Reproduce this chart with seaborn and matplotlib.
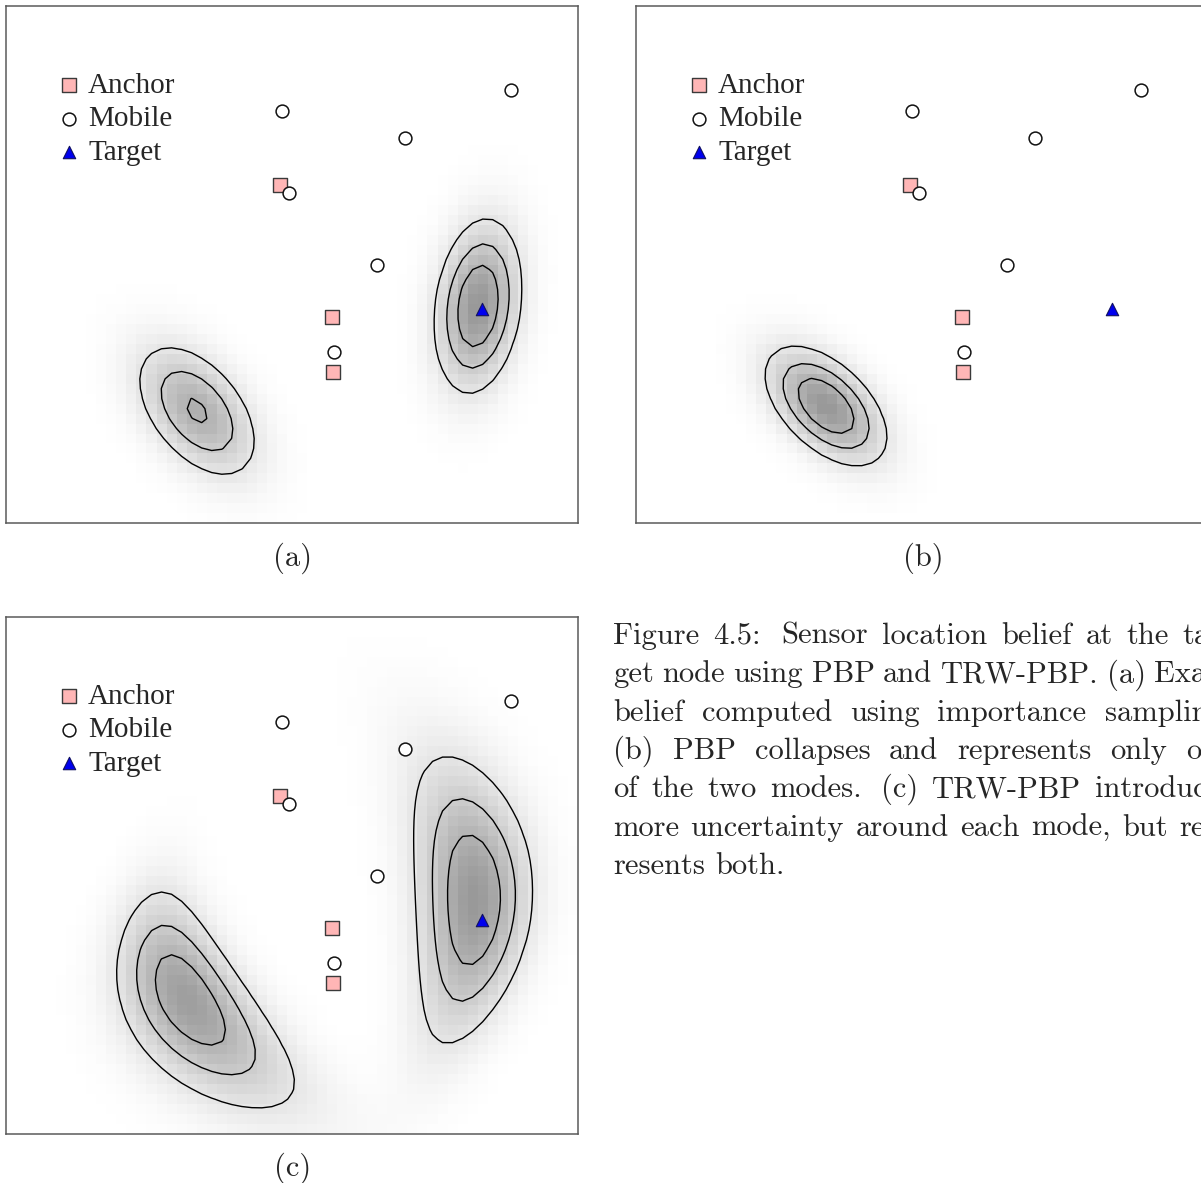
import numpy as np
import matplotlib
matplotlib.use("Agg")
import matplotlib.pyplot as plt
from matplotlib.colors import LinearSegmentedColormap
import seaborn as sns

# ---------------------------------------------------------------------------
# Sensor layout (metres)
anchor_x = [2.74, 3.26, 3.27]
anchor_y = [3.38, 2.06, 1.51]
mobile_x = [2.76, 2.83, 3.99, 5.05, 3.71, 3.28]
mobile_y = [4.12, 3.30, 3.85, 4.33, 2.58, 1.71]
target_x = [4.76]
target_y = [2.14]

# Belief modes at the target node.
# Each mode: weight, x0, y0, sx, sy, rho, shear, curvature, taper
modes_exact = [
    [1.00, 4.72, 2.17, 0.26, 0.52, 0.20, 0.0, 0.0, 0.0],
    [0.77, 1.91, 1.12, 0.377, 0.417, -0.48, 0.0, 0.0, 0.0],
]
modes_pbp = [
    [1.00, 1.90, 1.17, 0.363, 0.357, -0.52, 0.0, 0.0, 0.0],
]
modes_trw = [
    [1.00, 4.68, 2.34, 0.35, 0.86, 0.0, 0.0, -0.13, -0.08],
    [0.95, 1.81, 1.34, 0.41, 0.66, 0.0, -0.45, 0.20, 0.33],
]
contour_fracs = [0.25, 0.5, 0.75]
legend_labels = ["Anchor", "Mobile", "Target"]
panel_labels = ["(a)", "(b)", "(c)"]

caption_lines = [
    ["Figure", "4.5:", "Sensor", "location", "belief", "at", "the", "tar-"],
    ["get", "node", "using", "PBP", "and", "TRW-PBP.", "(a)", "Exact"],
    ["belief", "computed", "using", "importance", "sampling."],
    ["(b)", "PBP", "collapses", "and", "represents", "only", "one"],
    ["of", "the", "two", "modes.", "(c)", "TRW-PBP", "introduces"],
    ["more", "uncertainty", "around", "each", "mode,", "but", "rep-"],
    ["resents", "both."],
]
sentence_ends = {"4.5:", "modes."}

# ---------------------------------------------------------------------------
# Layout (pixels)
W, H = 1201, 1183
XMAX, YMAX = 5.72, 5.17
NX, NY = 57, 52
CAP_LEFT, CAP_RIGHT = 613, 1232
CAP_SIZE = 22
caption_base_y = [644 + 38.3 * i for i in range(len(caption_lines))]

sns.set_style("white")
plt.rcParams["font.family"] = ["Liberation Serif", "DejaVu Serif"]

fig = plt.figure(figsize=(W / 100, H / 100), dpi=100)


def add_panel(left, top, width=572, height=517):
    return fig.add_axes([left / W, 1 - (top + height) / H, width / W, height / H])


xe = np.linspace(0, XMAX, NX + 1)
ye = np.linspace(0, YMAX, NY + 1)
xcen = 0.5 * (xe[:-1] + xe[1:])
ycen = 0.5 * (ye[:-1] + ye[1:])
GX, GY = np.meshgrid(xcen, ycen)

cmap = LinearSegmentedColormap.from_list("belief", ["#ffffff", "#999999"])


def belief(modes):
    total = np.zeros_like(GX)
    for w, x0, y0, sx, sy, rho, shear, curv, taper in modes:
        v = GY - y0
        u = GX - (x0 + shear * v + curv * v ** 2)
        sxv = sx * np.exp(-taper * v)
        q = (u ** 2 / sxv ** 2 - 2 * rho * u * v / (sxv * sy) + v ** 2 / sy ** 2) / (1 - rho ** 2)
        total += w * np.exp(-0.5 * q)
    return total / total.max()


def draw_panel(ax, modes):
    dens = belief(modes)
    ax.pcolormesh(xe, ye, dens, cmap=cmap, vmin=0, vmax=1, shading="flat",
                  antialiased=False, zorder=0)
    ax.contour(xcen, ycen, dens, levels=contour_fracs, colors="black",
               linewidths=1.0, zorder=1)
    sns.scatterplot(x=anchor_x, y=anchor_y, ax=ax, marker="s", s=105,
                    color="#ffb6b6", edgecolor="#3a3a3a", linewidth=1.0,
                    label=legend_labels[0], zorder=3)
    sns.scatterplot(x=mobile_x, y=mobile_y, ax=ax, marker="o", s=85,
                    color="white", edgecolor="#111111", linewidth=1.1,
                    label=legend_labels[1], zorder=4)
    sns.scatterplot(x=target_x, y=target_y, ax=ax, marker="^", s=80,
                    color="#0000ee", edgecolor="#101060", linewidth=0.8,
                    label=legend_labels[2], zorder=5)
    ax.set_xlim(0, XMAX)
    ax.set_ylim(0, YMAX)
    ax.set_xticks([])
    ax.set_yticks([])
    for sp in ax.spines.values():
        sp.set_color("#5a5a5a")
        sp.set_linewidth(1.1)
    ax.legend(loc="upper left", bbox_to_anchor=(0.085, 0.872), frameon=False,
              fontsize=21, handletextpad=0.15, labelspacing=0.25,
              handlelength=1.0, borderaxespad=0.0, borderpad=0.0)


ax_a = add_panel(6, 6)
ax_b = add_panel(636, 6)
ax_c = add_panel(6, 617)
draw_panel(ax_a, modes_exact)
draw_panel(ax_b, modes_pbp)
draw_panel(ax_c, modes_trw)

for lab, (px, py) in zip(panel_labels, [(293, 566), (923, 566), (293, 1176)]):
    fig.text(px / W, 1 - py / H, lab, ha="center", va="baseline",
             family="cmr10", fontsize=CAP_SIZE)

# Justified caption set word by word; the last line keeps natural spacing.
renderer = fig.canvas.get_renderer()
for li, (words, by) in enumerate(zip(caption_lines, caption_base_y)):
    texts = [fig.text(0, 1 - by / H, wd, ha="left", va="baseline",
                      family="cmr10", fontsize=CAP_SIZE) for wd in words]
    widths = [t.get_window_extent(renderer).width for t in texts]
    weights = [1.5 if wd in sentence_ends else 1.0 for wd in words[:-1]]
    if li == len(caption_lines) - 1:
        unit = 0.333 * CAP_SIZE * 100 / 72
    else:
        unit = (CAP_RIGHT - CAP_LEFT - sum(widths)) / sum(weights)
    x = CAP_LEFT
    for i, (t, wdt) in enumerate(zip(texts, widths)):
        t.set_x(x / W)
        if i < len(weights):
            x += wdt + weights[i] * unit

fig.savefig("out.png", dpi=100)
